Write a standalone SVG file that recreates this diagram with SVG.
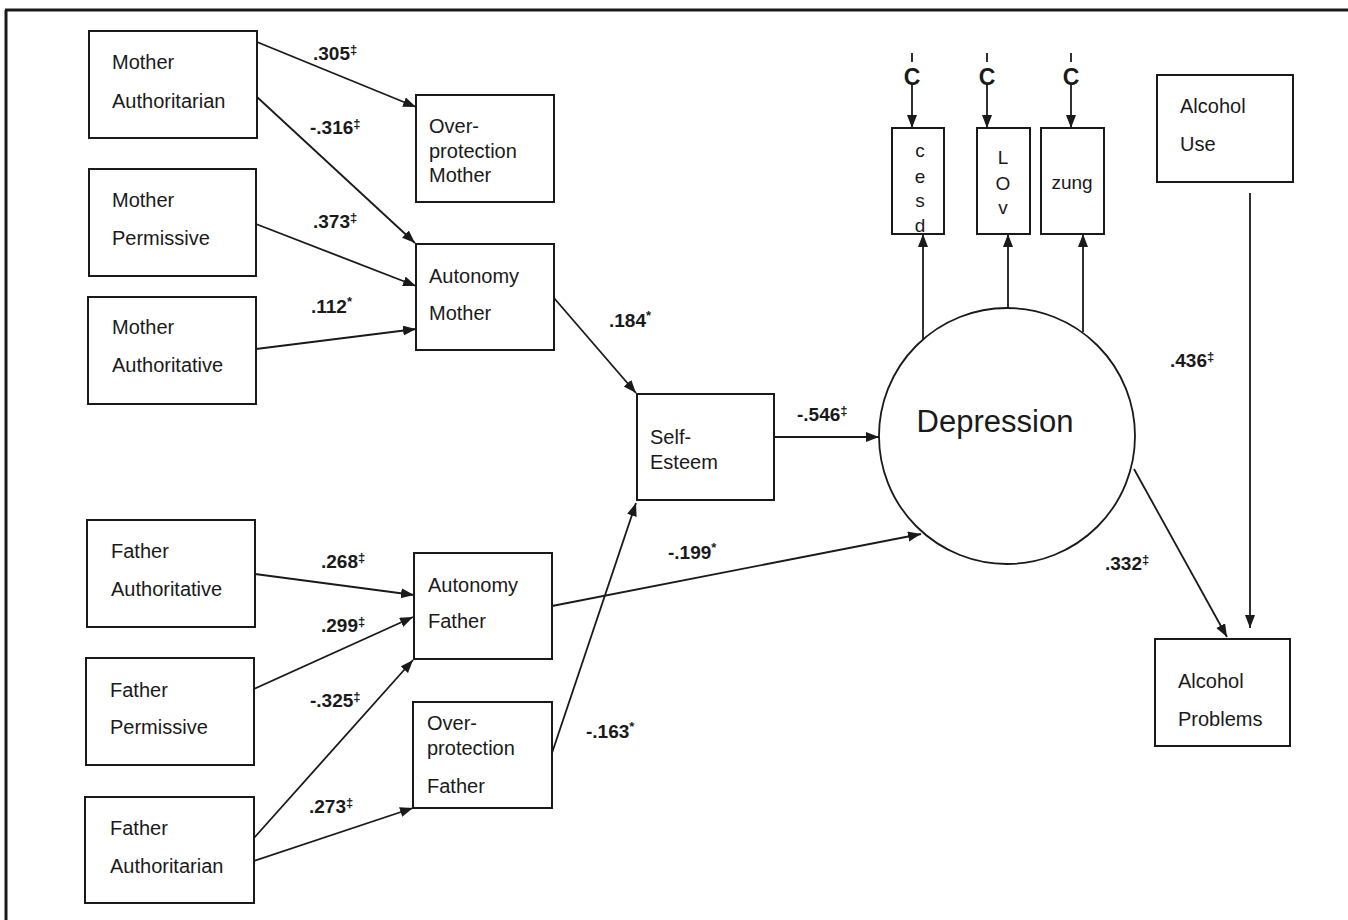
<svg xmlns="http://www.w3.org/2000/svg" width="1348" height="920" viewBox="0 0 1348 920">
<style>
.box{fill:#fff;stroke:#1a1a1a;stroke-width:2}
.t{font-family:"Liberation Sans",Arial,sans-serif;font-size:20px;fill:#1a1a1a}
.lbl{font-family:"Liberation Sans",Arial,sans-serif;font-size:19px;font-weight:bold;fill:#1a1a1a}
.sup{font-size:13px}
.e{fill:none;stroke:#1a1a1a;stroke-width:1.8;marker-end:url(#ah)}
.ln{fill:none;stroke:#1a1a1a;stroke-width:1.8}
.c{font-family:"Liberation Sans",Arial,sans-serif;font-size:23px;font-weight:bold;fill:#1a1a1a}
.v{font-family:"Liberation Sans",Arial,sans-serif;font-size:19px;fill:#1a1a1a}
</style>
<defs>
<marker id="ah" markerUnits="userSpaceOnUse" markerWidth="15" markerHeight="11" refX="13" refY="5" orient="auto">
<path d="M0,0 L13,5 L0,10 z" fill="#1a1a1a"/>
</marker>
</defs>
<rect width="1348" height="920" fill="#fff"/>
<g id="frame">
<line x1="5" y1="10" x2="1348" y2="10" stroke="#1a1a1a" stroke-width="3"/>
<line x1="6" y1="10" x2="6" y2="920" stroke="#1a1a1a" stroke-width="3"/>
</g>
<g id="connectors">
<path class="e" d="M257,42 L416,107"/>
<path class="e" d="M257,97 L415,243"/>
<path class="e" d="M256,224 L416,286"/>
<path class="e" d="M256,349 L416,329"/>
<path class="e" d="M554,298 L636,393"/>
<path class="e" d="M774,437 L879,437"/>
<path class="e" d="M923,339 L923,234"/>
<path class="e" d="M1008,308 L1008,234"/>
<path class="e" d="M1083,332 L1083,234"/>
<path class="ln" d="M912,53 L912,62"/>
<path class="e" d="M912,84 L912,128"/>
<path class="ln" d="M987,53 L987,62"/>
<path class="e" d="M987,84 L987,128"/>
<path class="ln" d="M1071,53 L1071,62"/>
<path class="e" d="M1071,84 L1071,128"/>
<path class="e" d="M1250,193 L1250,628"/>
<path class="e" d="M1134,469 L1227,637"/>
<path class="e" d="M255,574 L414,595"/>
<path class="e" d="M254,689 L413,617"/>
<path class="e" d="M254,838 L413,660"/>
<path class="e" d="M254,861 L413,808"/>
<path class="e" d="M552,753 L636,503"/>
<path class="e" d="M552,606 L921,534"/>
</g>
<g id="labels">
<text class="lbl" x="313" y="60">.305<tspan class="sup" dy="-6">‡</tspan></text>
<text class="lbl" x="310" y="134">-.316<tspan class="sup" dy="-6">‡</tspan></text>
<text class="lbl" x="313" y="228">.373<tspan class="sup" dy="-6">‡</tspan></text>
<text class="lbl" x="311" y="313">.112<tspan class="sup" dy="-7">*</tspan></text>
<text class="lbl" x="609" y="327">.184<tspan class="sup" dy="-7">*</tspan></text>
<text class="lbl" x="797" y="421">-.546<tspan class="sup" dy="-6">‡</tspan></text>
<text class="lbl" x="1170" y="367">.436<tspan class="sup" dy="-6">‡</tspan></text>
<text class="lbl" x="1105" y="570">.332<tspan class="sup" dy="-6">‡</tspan></text>
<text class="lbl" x="668" y="559">-.199<tspan class="sup" dy="-7">*</tspan></text>
<text class="lbl" x="321" y="568">.268<tspan class="sup" dy="-6">‡</tspan></text>
<text class="lbl" x="321" y="632">.299<tspan class="sup" dy="-6">‡</tspan></text>
<text class="lbl" x="310" y="707">-.325<tspan class="sup" dy="-6">‡</tspan></text>
<text class="lbl" x="309" y="813">.273<tspan class="sup" dy="-6">‡</tspan></text>
<text class="lbl" x="586" y="738">-.163<tspan class="sup" dy="-7">*</tspan></text>
</g>
<g id="mother-authoritarian">
<rect class="box" x="89" y="31" width="168" height="107"/>
<text class="t" x="112" y="69">Mother</text>
<text class="t" x="112" y="108">Authoritarian</text>
</g>
<g id="overprotection-mother">
<rect class="box" x="416" y="95" width="138" height="107"/>
<text class="t" x="429" y="133">Over-</text>
<text class="t" x="429" y="158">protection</text>
<text class="t" x="429" y="182">Mother</text>
</g>
<g id="mother-permissive">
<rect class="box" x="89" y="169" width="167" height="107"/>
<text class="t" x="112" y="207">Mother</text>
<text class="t" x="112" y="245">Permissive</text>
</g>
<g id="autonomy-mother">
<rect class="box" x="416" y="244" width="138" height="106"/>
<text class="t" x="429" y="283">Autonomy</text>
<text class="t" x="429" y="320">Mother</text>
</g>
<g id="mother-authoritative">
<rect class="box" x="88" y="297" width="168" height="107"/>
<text class="t" x="112" y="334">Mother</text>
<text class="t" x="112" y="372">Authoritative</text>
</g>
<g id="self-esteem">
<rect class="box" x="637" y="394" width="137" height="106"/>
<text class="t" x="650" y="444">Self-</text>
<text class="t" x="650" y="469">Esteem</text>
</g>
<g id="depression">
<circle cx="1007" cy="436" r="128" fill="#fff" stroke="#1a1a1a" stroke-width="1.8"/>
<text x="995" y="432" text-anchor="middle" font-family="Liberation Sans, Arial, sans-serif" font-size="31" fill="#1a1a1a">Depression</text>
</g>
<g id="cesd">
<rect class="box" x="892" y="128" width="52" height="106"/>
<text class="c" x="912" y="85" text-anchor="middle">C</text>
<text class="v" x="920" y="157" text-anchor="middle">c</text>
<text class="v" x="920" y="183" text-anchor="middle">e</text>
<text class="v" x="920" y="207" text-anchor="middle">s</text>
<text class="v" x="920" y="232" text-anchor="middle">d</text>
</g>
<g id="lov">
<rect class="box" x="977" y="128" width="53" height="106"/>
<text class="c" x="987" y="85" text-anchor="middle">C</text>
<text class="v" x="1003" y="164" text-anchor="middle">L</text>
<text class="v" x="1003" y="190" text-anchor="middle">O</text>
<text class="v" x="1003" y="214" text-anchor="middle">v</text>
</g>
<g id="zung">
<rect class="box" x="1041" y="128" width="63" height="106"/>
<text class="c" x="1071" y="85" text-anchor="middle">C</text>
<text class="v" x="1072" y="189" text-anchor="middle">zung</text>
</g>
<g id="alcohol-use">
<rect class="box" x="1157" y="75" width="136" height="107"/>
<text class="t" x="1180" y="113">Alcohol</text>
<text class="t" x="1180" y="151">Use</text>
</g>
<g id="alcohol-problems">
<rect class="box" x="1155" y="639" width="135" height="107"/>
<text class="t" x="1178" y="688">Alcohol</text>
<text class="t" x="1178" y="726">Problems</text>
</g>
<g id="father-authoritative">
<rect class="box" x="87" y="520" width="168" height="107"/>
<text class="t" x="111" y="558">Father</text>
<text class="t" x="111" y="596">Authoritative</text>
</g>
<g id="autonomy-father">
<rect class="box" x="414" y="553" width="138" height="106"/>
<text class="t" x="428" y="592">Autonomy</text>
<text class="t" x="428" y="628">Father</text>
</g>
<g id="father-permissive">
<rect class="box" x="86" y="658" width="168" height="107"/>
<text class="t" x="110" y="697">Father</text>
<text class="t" x="110" y="734">Permissive</text>
</g>
<g id="overprotection-father">
<rect class="box" x="413" y="702" width="139" height="106"/>
<text class="t" x="427" y="730">Over-</text>
<text class="t" x="427" y="755">protection</text>
<text class="t" x="427" y="793">Father</text>
</g>
<g id="father-authoritarian">
<rect class="box" x="85" y="797" width="169" height="106"/>
<text class="t" x="110" y="835">Father</text>
<text class="t" x="110" y="873">Authoritarian</text>
</g>
</svg>
